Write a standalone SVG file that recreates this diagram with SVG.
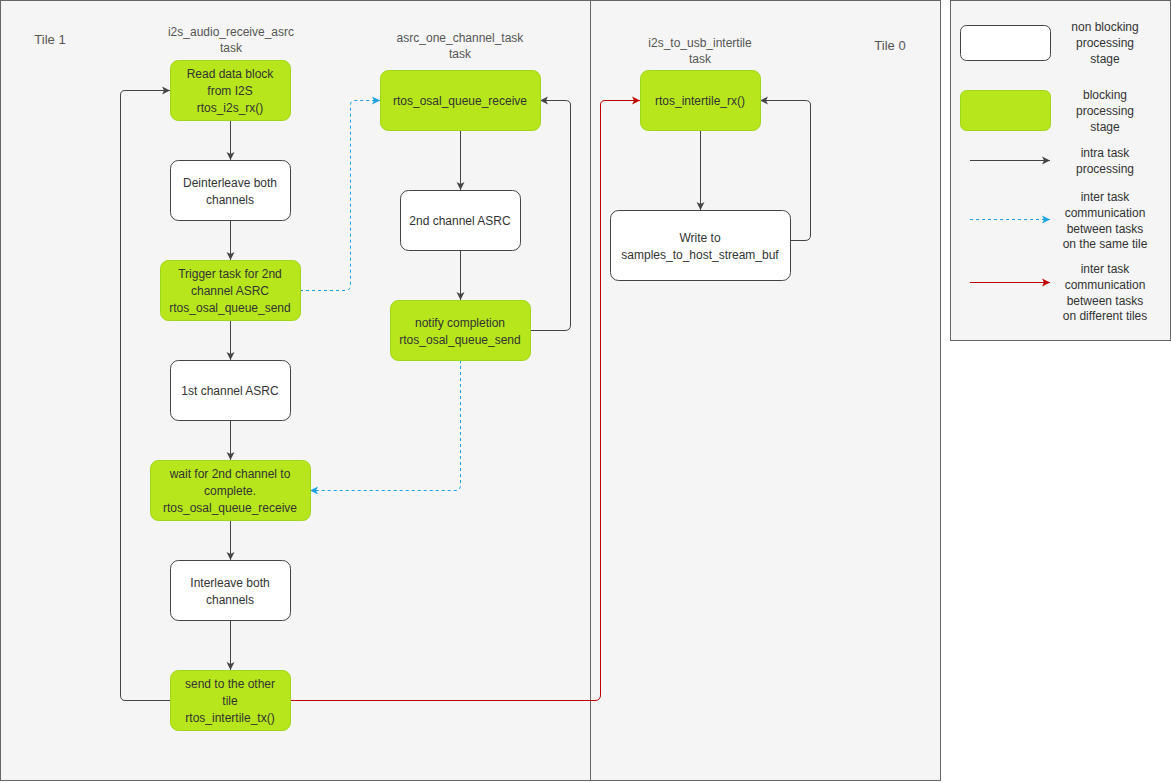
<svg xmlns="http://www.w3.org/2000/svg" width="1171" height="783" viewBox="0 0 1171 783">
<style>
text{font-family:"Liberation Sans",Arial,sans-serif;font-size:12px;fill:#333;text-anchor:middle}
.lbl{fill:#555}
.panel{fill:#f5f5f5;stroke:#666;stroke-width:1}
.w{fill:#fff;stroke:#444;stroke-width:1}
.g{fill:#b7e61d;stroke:#a0d61a;stroke-width:1}
.k{fill:none;stroke:#444;stroke-width:1;marker-end:url(#ak)}
.b{fill:none;stroke:#1ba1e2;stroke-width:1;stroke-dasharray:3,3;marker-end:url(#ab)}
.r{fill:none;stroke:#c00000;stroke-width:1;marker-end:url(#ar)}
</style>
<defs>
<marker id="ak" markerWidth="10" markerHeight="10" refX="9" refY="5" orient="auto" markerUnits="userSpaceOnUse"><path d="M1,1 L9,5 L1,9 L3,5 Z" fill="#444"/></marker>
<marker id="ab" markerWidth="10" markerHeight="10" refX="9" refY="5" orient="auto" markerUnits="userSpaceOnUse"><path d="M1,1 L9,5 L1,9 L3,5 Z" fill="#1ba1e2"/></marker>
<marker id="ar" markerWidth="10" markerHeight="10" refX="9" refY="5" orient="auto" markerUnits="userSpaceOnUse"><path d="M1,1 L9,5 L1,9 L3,5 Z" fill="#c00000"/></marker>
</defs>
<rect width="1171" height="783" fill="#fff"/>
<g id="tile1"><rect class="panel" x="0.5" y="0.5" width="590" height="780"/><text x="50" y="44" class="lbl" style="font-size:13px">Tile 1</text>
<text x="231" y="36" class="lbl">i2s_audio_receive_asrc</text><text x="231" y="52" class="lbl">task</text>
<text x="460" y="42" class="lbl">asrc_one_channel_task</text><text x="460" y="58" class="lbl">task</text></g>
<g id="tile0"><rect class="panel" x="590.5" y="0.5" width="350" height="780"/><text x="890" y="50" class="lbl" style="font-size:13px">Tile 0</text>
<text x="700" y="47" class="lbl">i2s_to_usb_intertile</text><text x="700" y="63" class="lbl">task</text></g>
<g id="legend"><rect class="panel" x="950.5" y="0.5" width="220" height="340"/>
<rect class="w" x="960.5" y="25.5" width="90" height="35" rx="6"/>
<text x="1105" y="31">non blocking</text><text x="1105" y="47">processing</text><text x="1105" y="63">stage</text>
<rect class="g" x="960.5" y="90.5" width="90" height="40" rx="6"/>
<text x="1105" y="99">blocking</text><text x="1105" y="115">processing</text><text x="1105" y="131">stage</text>
<text x="1105" y="157">intra task</text><text x="1105" y="173">processing</text>
<text x="1105" y="201">inter task</text><text x="1105" y="217">communication</text><text x="1105" y="233">between tasks</text><text x="1105" y="248">on the same tile</text>
<text x="1105" y="273">inter task</text><text x="1105" y="289">communication</text><text x="1105" y="305">between tasks</text><text x="1105" y="320">on different tiles</text>
<path class="k" d="M970,160.5 H1050"/><path class="b" d="M970,219.5 H1050"/><path class="r" d="M970,282.5 H1050"/></g>
<g id="connectors">
<path class="k" d="M230.5,120 V160"/><path class="k" d="M230.5,220 V260"/><path class="k" d="M230.5,320 V360"/><path class="k" d="M230.5,420 V460"/><path class="k" d="M230.5,520 V560"/><path class="k" d="M230.5,620 V670"/>
<path class="k" d="M170,700.5 H125 Q120.5,700.5 120.5,695 V95 Q120.5,90.5 125,90.5 H170"/>
<path class="b" d="M300,290.5 H345 Q350.5,290.5 350.5,285 V105 Q350.5,100.5 355,100.5 H380"/>
<path class="k" d="M460.5,130 V190"/><path class="k" d="M460.5,250 V300"/>
<path class="k" d="M530,330.5 H565 Q570.5,330.5 570.5,325 V105 Q570.5,100.5 565,100.5 H540"/>
<path class="b" d="M460.5,360 V485 Q460.5,490.5 455,490.5 H310"/>
<path class="r" d="M290,700.5 H595 Q600.5,700.5 600.5,695 V105 Q600.5,100.5 605,100.5 H640"/>
<path class="k" d="M700.5,130 V210"/>
<path class="k" d="M790,240.5 H805 Q810.5,240.5 810.5,235 V105 Q810.5,100.5 805,100.5 H760"/>
</g>
<g id="n_read"><rect class="g" x="170.5" y="60.5" width="120" height="60" rx="8"/><text x="230" y="78">Read data block</text><text x="230" y="95">from I2S</text><text x="230" y="112">rtos_i2s_rx()</text></g>
<g id="n_deint"><rect class="w" x="170.5" y="160.5" width="120" height="60" rx="8"/><text x="230" y="187">Deinterleave both</text><text x="230" y="204">channels</text></g>
<g id="n_trigger"><rect class="g" x="160.5" y="260.5" width="140" height="60" rx="8"/><text x="230" y="278">Trigger task for 2nd</text><text x="230" y="295">channel ASRC</text><text x="230" y="312">rtos_osal_queue_send</text></g>
<g id="n_1st"><rect class="w" x="170.5" y="360.5" width="120" height="60" rx="8"/><text x="230" y="395">1st channel ASRC</text></g>
<g id="n_wait"><rect class="g" x="150.5" y="460.5" width="160" height="60" rx="8"/><text x="230" y="478">wait for 2nd channel to</text><text x="230" y="495">complete.</text><text x="230" y="512">rtos_osal_queue_receive</text></g>
<g id="n_inter"><rect class="w" x="170.5" y="560.5" width="120" height="60" rx="8"/><text x="230" y="587">Interleave both</text><text x="230" y="604">channels</text></g>
<g id="n_send"><rect class="g" x="170.5" y="670.5" width="120" height="60" rx="8"/><text x="230" y="688">send to the other</text><text x="230" y="705">tile</text><text x="230" y="722">rtos_intertile_tx()</text></g>
<g id="n_qrecv"><rect class="g" x="380.5" y="70.5" width="160" height="60" rx="8"/><text x="460" y="105">rtos_osal_queue_receive</text></g>
<g id="n_2nd"><rect class="w" x="400.5" y="190.5" width="120" height="60" rx="8"/><text x="460" y="225">2nd channel ASRC</text></g>
<g id="n_notify"><rect class="g" x="390.5" y="300.5" width="140" height="60" rx="8"/><text x="460" y="327">notify completion</text><text x="460" y="344">rtos_osal_queue_send</text></g>
<g id="n_irx"><rect class="g" x="640.5" y="70.5" width="120" height="60" rx="8"/><text x="700" y="105">rtos_intertile_rx()</text></g>
<g id="n_write"><rect class="w" x="610.5" y="210.5" width="180" height="70" rx="8"/><text x="700" y="242">Write to</text><text x="700" y="259">samples_to_host_stream_buf</text></g>
</svg>
